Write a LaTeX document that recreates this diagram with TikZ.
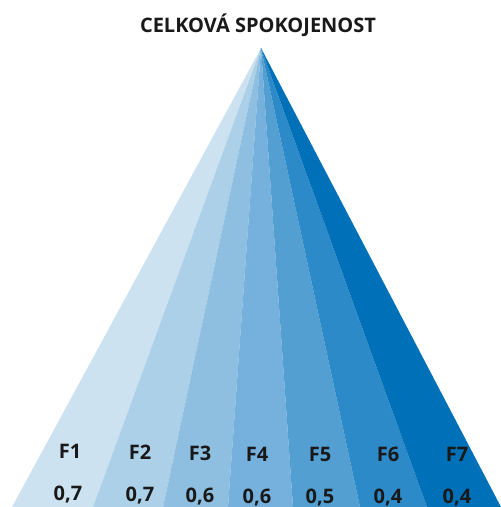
\documentclass[tikz,border=0pt]{standalone}
\usepackage{fontspec}
\setmainfont{Open Sans}
\usetikzlibrary{positioning}
\definecolor{blueA}{HTML}{CCE2F1}
\definecolor{blueB}{HTML}{ABD0E7}
\definecolor{blueC}{HTML}{8EBFE0}
\definecolor{blueD}{HTML}{75B1DC}
\definecolor{blueE}{HTML}{539FD2}
\definecolor{blueF}{HTML}{2D8AC8}
\definecolor{blueG}{HTML}{0070B8}

\begin{document}
\begin{tikzpicture} [x=0.5pt, y=-0.5pt,
        title/.style = {font=\bfseries\fontsize{10}{12}\selectfont, text=black!90},
        factor/.style = {font=\bfseries\fontsize{10}{12}\selectfont, text=black!90}]
        \useasboundingbox (0,0) rectangle (501,507);

        %Punkte
        \coordinate (top) at (261,48);
        \coordinate (b0) at (12,507);
        \coordinate (b1) at (93,507);
        \coordinate (b2) at (163,507);
        \coordinate (b3) at (228,507);
        \coordinate (b4) at (293,507);
        \coordinate (b5) at (360,507);
        \coordinate (b6) at (427,507);
        \coordinate (b7) at (501,507);

        %Keile
        \fill[blueA] (top) -- (b0) -- (b1) -- cycle;
        \fill[blueB] (top) -- (b1) -- (b2) -- cycle;
        \fill[blueC] (top) -- (b2) -- (b3) -- cycle;
        \fill[blueD] (top) -- (b3) -- (b4) -- cycle;
        \fill[blueE] (top) -- (b4) -- (b5) -- cycle;
        \fill[blueF] (top) -- (b5) -- (b6) -- cycle;
        \fill[blueG] (top) -- (b6) -- (b7) -- cycle;

        %Beschriftung
        \node[title] (celkova) at (258,25) {CELKOVÁ SPOKOJENOST};

        \node[factor] (f1) at (70,451) {F1};
        \node[factor] (f2) at (140,452) {F2};
        \node[factor] (f3) at (200,453) {F3};
        \node[factor] (f4) at (257,454) {F4};
        \node[factor] (f5) at (320,454) {F5};
        \node[factor] (f6) at (388,454) {F6};
        \node[factor] (f7) at (457,454) {F7};

        \node[factor] (v1) at (68,495) {0,7};
        \node[factor] (v2) at (140,496) {0,7};
        \node[factor] (v3) at (200,497) {0,6};
        \node[factor] (v4) at (257,498) {0,6};
        \node[factor] (v5) at (320,498) {0,5};
        \node[factor] (v6) at (388,498) {0,4};
        \node[factor] (v7) at (457,498) {0,4};

    \end{tikzpicture}
\end{document}
